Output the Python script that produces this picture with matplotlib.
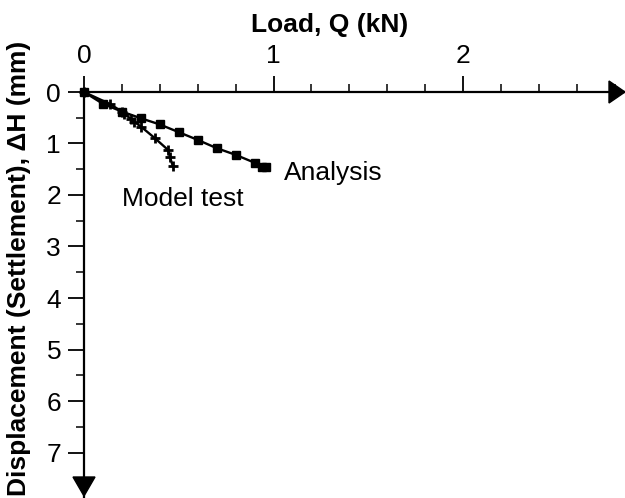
import matplotlib
matplotlib.use("Agg")
import matplotlib.pyplot as plt
from matplotlib.patches import Polygon
from matplotlib.transforms import IdentityTransform
from matplotlib.ticker import MultipleLocator

# Data
analysis_q = [0, 0.10, 0.20, 0.30, 0.40, 0.50, 0.60, 0.70, 0.80, 0.905, 0.94, 0.96]
analysis_dh = [0, 0.23, 0.38, 0.51, 0.63, 0.78, 0.93, 1.09, 1.22, 1.38, 1.45, 1.46]
model_q = [0, 0.137, 0.20, 0.21, 0.25, 0.265, 0.30, 0.375, 0.445, 0.454, 0.468]
model_dh = [0, 0.233, 0.38, 0.43, 0.52, 0.58, 0.67, 0.90, 1.13, 1.27, 1.43]
x_ticks = [0, 1, 2]
y_ticks = [0, 1, 2, 3, 4, 5, 6, 7]

plt.rcParams['font.family'] = ['Liberation Sans', 'DejaVu Sans']
FS = 19

W, H = 625, 498
fig = plt.figure(figsize=(W / 100, H / 100), dpi=100)
left, right, top, bottom = 84, 625, 92, 497
ax = fig.add_axes([left / W, 1 - bottom / H, (right - left) / W, (bottom - top) / H])
ax.patch.set_alpha(0)

ax.plot(analysis_q, analysis_dh, color='black', lw=1.7, marker='s', ms=5.5, clip_on=False, zorder=3)
ax.plot(model_q, model_dh, color='black', lw=1.7, marker='+', ms=7, mew=2.0, clip_on=False, zorder=3)

ax.set_xlim(0, (right - left) / 189.5)
ax.set_ylim((bottom - top) / 51.5, 0)

for s in ['bottom', 'right']:
    ax.spines[s].set_visible(False)
ax.spines['top'].set_linewidth(1.6)
ax.spines['left'].set_linewidth(1.6)

ax.xaxis.tick_top()
ax.set_xticks(x_ticks)
ax.set_xticklabels([str(t) for t in x_ticks])
ax.xaxis.set_minor_locator(MultipleLocator(0.2))
ax.set_yticks(y_ticks)
ax.set_yticklabels([str(t) for t in y_ticks])
ax.yaxis.set_minor_locator(MultipleLocator(0.5))
ax.tick_params(which='major', direction='out', length=11.5, width=1.3, labelsize=FS)
ax.tick_params(which='minor', direction='out', length=6, width=1.1)
ax.tick_params(axis='x', which='major', pad=6)
ax.tick_params(axis='y', which='major', pad=5)

fig.text(330 / W, 1 - 32 / H, 'Load, Q (kN)', ha='center', va='baseline',
         fontsize=FS, fontweight='bold')
fig.text(19 / W, 1 - 268 / H, 'Displacement (Settlement), ΔH (mm)', rotation=90,
         ha='center', va='center', fontsize=19, fontweight='bold')

ax.text(1.055, 1.58, 'Analysis', fontsize=FS, ha='left', va='center')
ax.text(0.2, 2.08, 'Model test', fontsize=FS, ha='left', va='center')

# Arrow heads
tip_x = ax.transAxes.transform((1, 1))
fig.add_artist(Polygon([[tip_x[0], tip_x[1]], [tip_x[0] - 16, tip_x[1] + 11], [tip_x[0] - 16, tip_x[1] - 11]],
                       closed=True, color='black', transform=IdentityTransform()))
tip_y = ax.transAxes.transform((0, 0))
fig.add_artist(Polygon([[tip_y[0], tip_y[1] + 1], [tip_y[0] - 11, tip_y[1] + 20], [tip_y[0] + 11, tip_y[1] + 20]],
                       closed=True, color='black', transform=IdentityTransform()))

fig.savefig('out.png', dpi=100)
